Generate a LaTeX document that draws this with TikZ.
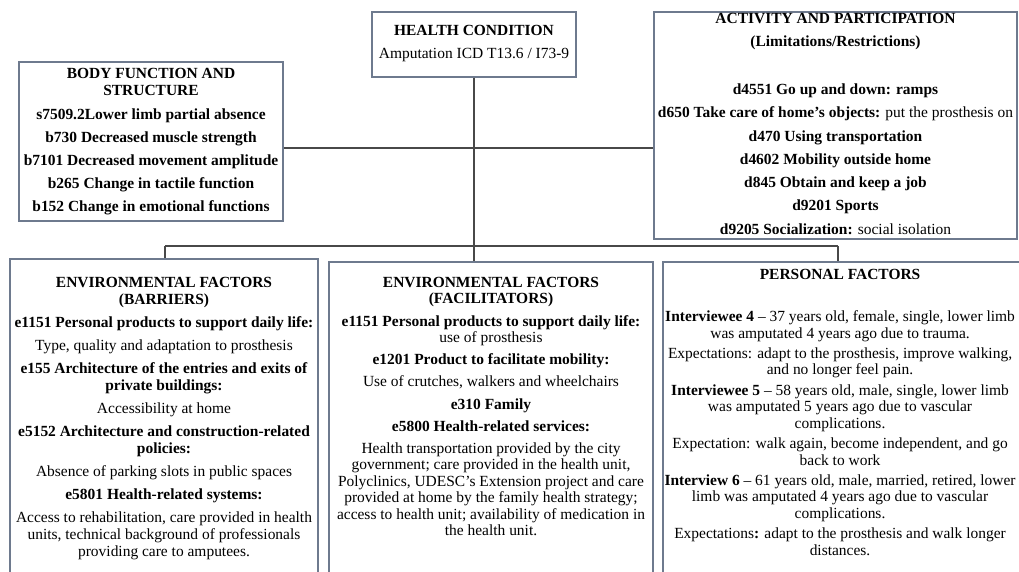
\documentclass[tikz,border=0pt]{standalone}
\usepackage{fontspec}
\setmainfont{Liberation Serif}
\usetikzlibrary{positioning}
\definecolor{boxline}{RGB}{110,122,142}
\definecolor{linkgray}{RGB}{72,72,72}

\begin{document}
\begin{tikzpicture}[x=0.75pt,y=-0.75pt,
      box/.style={rectangle, draw=boxline, line width=0.8pt, inner sep=0pt},
      txt/.style={align=center, inner sep=0pt,
          font=\fontsize{11.6pt}{12.75pt}\selectfont},
      link/.style={draw=linkgray, line width=0.9pt}]
  \useasboundingbox (0,0) rectangle (1019,571);
  \clip (0,0) rectangle (1019,571);
  \fill[white] (0,0) rectangle (1019,571);

  % the boxes
  \node[box, minimum width=153pt, minimum height=48.75pt] (health) at (474,44.5) {};
  \node[box, minimum width=198pt, minimum height=119.25pt] (body) at (151,141.5) {};
  \node[box, minimum width=272.25pt, minimum height=170.25pt] (act) at (835.5,125.5) {};
  \node[box, minimum width=231pt, minimum height=255.75pt] (barrier) at (164,429.5) {};
  \node[box, minimum width=243pt, minimum height=253.5pt] (facil) at (491,431) {};
  \node[box, minimum width=270.75pt, minimum height=253.5pt] (personal) at (843.5,431) {};

  % the texts
  \node[txt, below=10.5pt of health.north] (healthtxt)
  {
    \textbf{HEALTH CONDITION}\\[4.5pt]
    Amputation ICD T13.6 / I73-9
  };
  \node[txt, font=\fontsize{11.6pt}{12.75pt}\selectfont\bfseries,
        below=5.25pt of body.north] (bodytxt)
  {
    BODY FUNCTION AND\\
    STRUCTURE\\[5pt]
    s7509.2Lower limb partial absence\\[4.5pt]
    b730 Decreased muscle strength\\[4.5pt]
    b7101 Decreased movement amplitude\\[4.5pt]
    b265 Change in tactile function\\[4.5pt]
    b152 Change in emotional functions
  };
  \node[txt, below=1pt of act.north] (acttxt)
  {
    \textbf{ACTIVITY AND PARTICIPATION}\\[4.7pt]
    \textbf{(Limitations/Restrictions)}\\[23.2pt]
    \textbf{d4551 Go up and down: ramps}\\[4.7pt]
    \textbf{d650 Take care of home’s objects:} put the prosthesis on\\[4.7pt]
    \textbf{d470 Using transportation}\\[4.7pt]
    \textbf{d4602 Mobility outside home}\\[4.7pt]
    \textbf{d845 Obtain and keep a job}\\[4.7pt]
    \textbf{d9201 Sports}\\[4.7pt]
    \textbf{d9205 Socialization:} social isolation
  };
  \node[txt, below=13.9pt of barrier.north] (barriertxt)
  {
    \textbf{ENVIRONMENTAL FACTORS}\\
    \textbf{(BARRIERS)}\\[4.5pt]
    \textbf{e1151 Personal products to support daily life:}\\[4.5pt]
    Type, quality and adaptation to prosthesis\\[4.5pt]
    \textbf{e155 Architecture of the entries and exits of}\\
    \textbf{private buildings:}\\[4.5pt]
    Accessibility at home\\[4.5pt]
    \textbf{e5152 Architecture and construction-related}\\
    \textbf{policies:}\\[4.5pt]
    Absence of parking slots in public spaces\\[4.5pt]
    \textbf{e5801 Health-related systems:}\\[4.5pt]
    Access to rehabilitation, care provided in health\\
    units, technical background of professionals\\
    providing care to amputees.
  };
  \node[txt, font=\fontsize{11.6pt}{12.4pt}\selectfont,
        below=11.6pt of facil.north] (faciltxt)
  {
    \textbf{ENVIRONMENTAL FACTORS}\\
    \textbf{(FACILITATORS)}\\[4.2pt]
    \textbf{e1151 Personal products to support daily life:}\\
    use of prosthesis\\[4.2pt]
    \textbf{e1201 Product to facilitate mobility:}\\[4.2pt]
    Use of crutches, walkers and wheelchairs\\[4.2pt]
    \textbf{e310 Family}\\[4.2pt]
    \textbf{e5800 Health-related services:}\\[4.2pt]
    Health transportation provided by the city\\
    government; care provided in the health unit,\\
    Polyclinics, UDESC’s Extension project and care\\
    provided at home by the family health strategy;\\
    access to health unit; availability of medication in\\
    the health unit.
  };
  \node[txt, font=\fontsize{11.6pt}{12.5pt}\selectfont,
        below=5.6pt of personal.north, xshift=-2.6pt] (personaltxt)
  {
    \textbf{PERSONAL FACTORS}\\[19pt]
    \textbf{Interviewee 4} -- 37 years old, female, single, lower limb\\
    was amputated 4 years ago due to trauma.\\[2.6pt]
    Expectations: adapt to the prosthesis, improve walking,\\
    and no longer feel pain.\\[2.6pt]
    \textbf{Interviewee 5} -- 58 years old, male, single, lower limb\\
    was amputated 5 years ago due to vascular\\
    complications.\\[2.6pt]
    Expectation: walk again, become independent, and go\\
    back to work\\[2.6pt]
    \textbf{Interview 6} -- 61 years old, male, married, retired, lower\\
    limb was amputated 4 years ago due to vascular\\
    complications.\\[2.6pt]
    Expectations\textbf{:} adapt to the prosthesis and walk longer\\
    distances.
  };

  % connectors
  \coordinate (hub) at (474,148);
  \coordinate (bl) at (165,246);
  \coordinate (br) at (838,246);
  \draw[link] (health.south) -- (health.south |- facil.north);
  \draw[link] (body.east |- hub) -- (act.west |- hub);
  \draw[link] (bl) -- (br);
  \draw[link] (bl) -- (bl |- barrier.north);
  \draw[link] (br) -- (br |- personal.north);
\end{tikzpicture}
\end{document}
